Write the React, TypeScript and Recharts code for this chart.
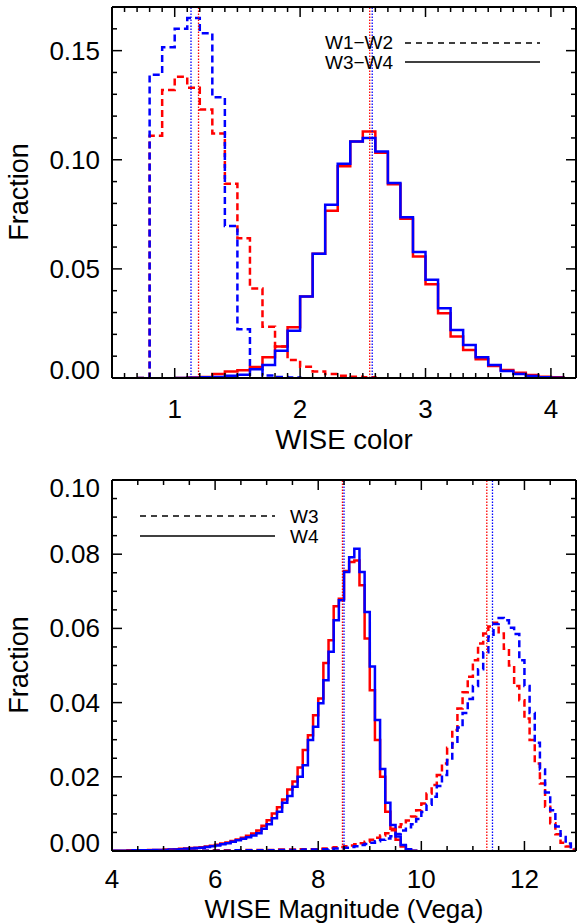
import { LineChart, Line, XAxis, YAxis, ReferenceLine } from 'recharts';

// ---- top panel: WISE colours, 0.1-wide bins, value = fraction per bin ----
const w12RedStart = 0.8;
const w12Red = [0.111, 0.132, 0.138, 0.133, 0.123, 0.112, 0.089, 0.064, 0.041, 0.0235, 0.0144, 0.0083, 0.0052, 0.003, 0.0018, 0.001, 0.0006, 0.0003];
const w12BlueStart = 0.8;
const w12Blue = [0.139, 0.1515, 0.16, 0.165, 0.158, 0.1286, 0.0697, 0.0223, 0.0045, 0.0012, 0.0005, 0.0002];
const w34RedStart = 1.1;
const w34Red = [0.0002, 0.0005, 0.0018, 0.003, 0.0035, 0.005, 0.0095, 0.0144, 0.0232, 0.0373, 0.0569, 0.0766, 0.097, 0.1084, 0.113, 0.1032, 0.0888, 0.073, 0.0557, 0.043, 0.0297, 0.019, 0.0128, 0.0086, 0.0055, 0.0037, 0.0024, 0.0014, 0.0006, 0.0003];
const w34BlueStart = 1.1;
const w34Blue = [0.0001, 0.0003, 0.0005, 0.001, 0.0015, 0.004, 0.006, 0.0125, 0.0217, 0.0373, 0.0569, 0.0794, 0.0982, 0.1084, 0.11, 0.1038, 0.0893, 0.0737, 0.0577, 0.045, 0.032, 0.022, 0.0151, 0.0095, 0.006, 0.0032, 0.0018, 0.0009, 0.0003, 0.0001];
const colorMedians = { w12Red: 1.19, w12Blue: 1.13, w34Red: 2.555, w34Blue: 2.575 };

// ---- bottom panel: WISE magnitudes ----
const w4RedStart = 4.0;
const w4Red = [
  0.0001, 0.0001, 0.0001, 0.0002, 0.0002, 0.0002, 0.0002, 0.0003, 0.0003, 0.0003,
  0.0004, 0.0004, 0.0005, 0.0006, 0.0007, 0.0008, 0.0009, 0.001, 0.0012, 0.0014,
  0.0017, 0.002, 0.0023, 0.0027, 0.0031, 0.0036, 0.0041, 0.0047, 0.0055, 0.0068,
  0.0083, 0.0101, 0.0118, 0.0139, 0.0166, 0.0187, 0.0225, 0.0272, 0.0312, 0.0366,
  0.0411, 0.0507, 0.0568, 0.066, 0.068, 0.0755, 0.0779, 0.0783, 0.0716, 0.0573,
  0.0433, 0.0299, 0.02, 0.0106, 0.006, 0.003, 0.0012, 0.0004, 0.0001,
];
const w4BlueStart = 4.0;
const w4Blue = [
  0.0001, 0.0001, 0.0001, 0.0001, 0.0002, 0.0002, 0.0002, 0.0002, 0.0003, 0.0003,
  0.0003, 0.0004, 0.0004, 0.0005, 0.0006, 0.0007, 0.0008, 0.0009, 0.0011, 0.0013,
  0.0015, 0.0018, 0.0021, 0.0025, 0.0029, 0.0033, 0.0037, 0.0042, 0.0048, 0.006,
  0.0072, 0.0088, 0.0106, 0.013, 0.0148, 0.0173, 0.02, 0.0231, 0.0299, 0.0335,
  0.0398, 0.046, 0.0537, 0.0622, 0.0676, 0.0752, 0.0792, 0.0815, 0.0752, 0.0644,
  0.0497, 0.0353, 0.0221, 0.013, 0.007, 0.0039, 0.0016, 0.0005, 0.0001,
];
const w3RedStart = 5.0;
const w3Red = [
  0, 0.0001, 0.0001, 0.0001, 0.0001, 0.0001, 0.0001, 0.0001, 0.0001, 0.0002,
  0.0002, 0.0002, 0.0002, 0.0002, 0.0002, 0.0003, 0.0003, 0.0003, 0.0003, 0.0003,
  0.0003, 0.0003, 0.0004, 0.0004, 0.0004, 0.0004, 0.0005, 0.0005, 0.0005, 0.0005,
  0.0006, 0.0007, 0.0008, 0.001, 0.0011, 0.0013, 0.0015, 0.0018, 0.0021, 0.0025,
  0.003, 0.0036, 0.0042, 0.0048, 0.0056, 0.0065, 0.0072, 0.0082, 0.0093, 0.011,
  0.0128, 0.0155, 0.0178, 0.0205, 0.0236, 0.0278, 0.0326, 0.0384, 0.0428, 0.047,
  0.0514, 0.0559, 0.0586, 0.0605, 0.0615, 0.0586, 0.0545, 0.05, 0.0445, 0.0406,
  0.0357, 0.0299, 0.0236, 0.0182, 0.0119, 0.0075, 0.0045, 0.0022, 0.0012, 0.0004,
];
const w3BlueStart = 5.0;
const w3Blue = [
  0, 0, 0.0001, 0.0001, 0.0001, 0.0001, 0.0001, 0.0001, 0.0001, 0.0001,
  0.0001, 0.0001, 0.0001, 0.0001, 0.0002, 0.0002, 0.0002, 0.0002, 0.0002, 0.0002,
  0.0002, 0.0002, 0.0003, 0.0003, 0.0003, 0.0003, 0.0003, 0.0004, 0.0004, 0.0004,
  0.0004, 0.0005, 0.0006, 0.0007, 0.0008, 0.0009, 0.0011, 0.0013, 0.0016, 0.0019,
  0.0022, 0.0026, 0.003, 0.0034, 0.004, 0.0046, 0.0055, 0.0064, 0.0072, 0.0086,
  0.0105, 0.0125, 0.0146, 0.0175, 0.0205, 0.0245, 0.029, 0.0333, 0.0372, 0.041,
  0.0445, 0.049, 0.0536, 0.0578, 0.0612, 0.0628, 0.0622, 0.0602, 0.0585, 0.0514,
  0.0445, 0.0372, 0.0292, 0.022, 0.0158, 0.011, 0.0066, 0.0038, 0.002, 0.0006,
];
const magMedians = { w4Red: 8.47, w4Blue: 8.5, w3Red: 11.27, w3Blue: 11.38 };

// ---- axes ----
const topXMajor = [1, 2, 3, 4];
const topYMajor = [0, 0.05, 0.1, 0.15];
const botXMajor = [4, 6, 8, 10, 12];
const botYMajor = [0, 0.02, 0.04, 0.06, 0.08, 0.1];

const steps = (lo: number, hi: number, d: number) => {
  const out: number[] = [];
  for (let i = 0; lo + i * d <= hi + 1e-9; i++) out.push(Math.round((lo + i * d) * 1000) / 1000);
  return out;
};
const topXTicks = steps(0.5, 4.2, 0.1);
const topYTicks = steps(0, 0.17, 0.01);
const botXTicks = steps(4, 13, 0.5);
const botYTicks = steps(0, 0.1, 0.005);

const RED = '#ff0000';
const BLUE = '#0000ff';
const FONT = '"Liberation Sans", Arial, Helvetica, sans-serif';

type Hist = { start: number; values: number[] };

// one row per 0.1 bin edge; stepAfter draws the histogram outline
const buildRows = (lo: number, hi: number, series: Record<string, Hist>) => {
  const rows: any[] = [];
  for (let k = Math.round(lo * 10); k <= Math.round(hi * 10); k++) {
    const row: any = { x: k / 10 };
    Object.entries(series).forEach(([key, s]) => {
      const i = k - Math.round(s.start * 10);
      if (i >= 0 && i < s.values.length) row[key] = s.values[i];
      else if (i === -1 || i === s.values.length) row[key] = 0;
    });
    rows.push(row);
  }
  return rows;
};

const topRows = buildRows(0.5, 4.2, {
  w12Red: { start: w12RedStart, values: w12Red },
  w12Blue: { start: w12BlueStart, values: w12Blue },
  w34Red: { start: w34RedStart, values: w34Red },
  w34Blue: { start: w34BlueStart, values: w34Blue },
});
const botRows = buildRows(4, 13, {
  w4Red: { start: w4RedStart, values: w4Red },
  w4Blue: { start: w4BlueStart, values: w4Blue },
  w3Red: { start: w3RedStart, values: w3Red },
  w3Blue: { start: w3BlueStart, values: w3Blue },
});

// inward IDL-style ticks, long for majors, labels only on majors
const tickMaker =
  (side: string, majors: number[], domain: number[], fmt?: (v: number) => string, labelGap = 40) =>
  (p: any) => {
    const { x, y, payload } = p;
    const v = payload.value;
    const major = majors.some((m) => Math.abs(m - v) < 1e-9);
    const len = major ? 10 : 5;
    let x2 = x;
    let y2 = y;
    if (side === 'bottom') y2 = y - len;
    if (side === 'top') y2 = y + len;
    if (side === 'left') x2 = x + len;
    if (side === 'right') x2 = x - len;
    let label = null;
    if (fmt && major) {
      if (side === 'bottom') {
        label = (
          <text x={x} y={y + labelGap} textAnchor="middle" fontSize={26} fontFamily={FONT} fill="#000">
            {fmt(v)}
          </text>
        );
      } else {
        let dy = 9;
        if (Math.abs(v - domain[0]) < 1e-9) dy -= 8;
        if (Math.abs(v - domain[1]) < 1e-9) dy += 8;
        label = (
          <text x={x - 12} y={y + dy} textAnchor="end" fontSize={26} fontFamily={FONT} fill="#000">
            {fmt(v)}
          </text>
        );
      }
    }
    return (
      <g>
        <line x1={x} y1={y} x2={x2} y2={y2} stroke="#000" strokeWidth={1.5} />
        {label}
      </g>
    );
  };

const axisLine = { stroke: '#000', strokeWidth: 2 };

// axes need a size of at least 1px or Recharts skips drawing them
const Axes = (xd: number[], yd: number[], xt: number[], yt: number[], xm: number[], ym: number[], xf: (v: number) => string, gap: number) => [
  <XAxis key="xb" xAxisId="b" dataKey="x" type="number" domain={xd} ticks={xt} interval={0} allowDataOverflow
    height={1} tickSize={0} tickMargin={0} tickLine={false} axisLine={axisLine} tick={tickMaker('bottom', xm, xd, xf, gap)} />,
  <XAxis key="xt" xAxisId="t" orientation="top" dataKey="x" type="number" domain={xd} ticks={xt} interval={0} allowDataOverflow
    height={1} tickSize={0} tickMargin={0} tickLine={false} axisLine={axisLine} tick={tickMaker('top', xm, xd)} />,
  <YAxis key="yl" yAxisId="l" type="number" domain={yd} ticks={yt} interval={0} allowDataOverflow
    width={1} tickSize={0} tickMargin={0} tickLine={false} axisLine={axisLine} tick={tickMaker('left', ym, yd, (v) => v.toFixed(2))} />,
  <YAxis key="yr" yAxisId="r" orientation="right" type="number" domain={yd} ticks={yt} interval={0} allowDataOverflow
    width={1} tickSize={0} tickMargin={0} tickLine={false} axisLine={axisLine} tick={tickMaker('right', ym, yd)} />,
];

const hist = (key: string, color: string, dashed: boolean) => (
  <Line key={key} xAxisId="b" yAxisId="l" type="stepAfter" dataKey={key} stroke={color} strokeWidth={2.5}
    strokeDasharray={dashed ? '7 4' : undefined} dot={false} activeDot={false} isAnimationActive={false} connectNulls={false} />
);

const median = (key: string, x: number, color: string) => (
  <ReferenceLine key={key} xAxisId="b" yAxisId="l" x={x} stroke={color} strokeWidth={1.3} strokeDasharray="1.5 1.5" />
);

export default function App() {
  return (
    <div style={{ position: 'absolute', left: 0, top: 0, width: 577, height: 924, background: '#fff' }}>
      <div style={{ position: 'absolute', left: 0, top: 0 }}>
        <LineChart width={577} height={460} data={topRows} margin={{ top: 6, right: 0, bottom: 81, left: 111 }}>
          {Axes([0.5, 4.2], [0, 0.17], topXTicks, topYTicks, topXMajor, topYMajor, (v) => String(v), 40)}
          {hist('w12Red', RED, true)}
          {hist('w12Blue', BLUE, true)}
          {hist('w34Red', RED, false)}
          {hist('w34Blue', BLUE, false)}
          {median('m1', colorMedians.w12Red, RED)}
          {median('m2', colorMedians.w12Blue, BLUE)}
          {median('m3', colorMedians.w34Red, RED)}
          {median('m4', colorMedians.w34Blue, BLUE)}
        </LineChart>
      </div>
      <div style={{ position: 'absolute', left: 0, top: 460 }}>
        <LineChart width={577} height={464} data={botRows} margin={{ top: 19, right: 0, bottom: 72, left: 111 }}>
          {Axes([4, 13], [0, 0.1], botXTicks, botYTicks, botXMajor, botYMajor, (v) => String(v), 37)}
          {hist('w4Red', RED, false)}
          {hist('w4Blue', BLUE, false)}
          {hist('w3Red', RED, true)}
          {hist('w3Blue', BLUE, true)}
          {median('m5', magMedians.w4Red, RED)}
          {median('m6', magMedians.w4Blue, BLUE)}
          {median('m7', magMedians.w3Red, RED)}
          {median('m8', magMedians.w3Blue, BLUE)}
        </LineChart>
      </div>
      <svg width={577} height={924} style={{ position: 'absolute', left: 0, top: 0, pointerEvents: 'none' }} fontFamily={FONT}>
        <text transform="translate(28,192) rotate(-90)" textAnchor="middle" fontSize={27}>Fraction</text>
        <text transform="translate(28,665) rotate(-90)" textAnchor="middle" fontSize={27}>Fraction</text>
        <text x={344} y={449} textAnchor="middle" fontSize={27.5}>WISE color</text>
        <text x={344} y={918} textAnchor="middle" fontSize={26}>WISE Magnitude (Vega)</text>

        <text x={325} y={49} fontSize={19}>W1−W2</text>
        <line x1={405} x2={540} y1={43} y2={43} stroke="#000" strokeWidth={1.5} strokeDasharray="6 5" />
        <text x={325} y={69} fontSize={19}>W3−W4</text>
        <line x1={405} x2={540} y1={62} y2={62} stroke="#000" strokeWidth={1.5} />

        <line x1={140} x2={275} y1={516} y2={516} stroke="#000" strokeWidth={1.5} strokeDasharray="6 5" />
        <text x={290} y={523} fontSize={19}>W3</text>
        <line x1={140} x2={275} y1={536} y2={536} stroke="#000" strokeWidth={1.5} />
        <text x={290} y={543} fontSize={19}>W4</text>
      </svg>
    </div>
  );
}
